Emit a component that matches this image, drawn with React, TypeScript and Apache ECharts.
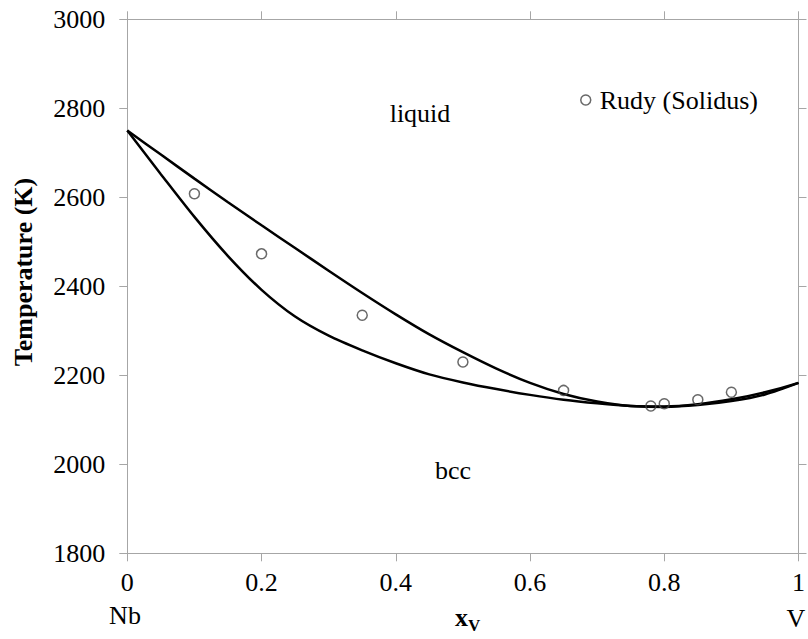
import React, { useEffect, useRef } from "react";
import * as echarts from "echarts";

// Nb–V binary phase diagram: calculated liquidus / solidus and measured solidus points
const compositions = [0, 0.05, 0.1, 0.15, 0.2, 0.25, 0.3, 0.35, 0.4, 0.45, 0.5, 0.55, 0.6, 0.65, 0.7, 0.75, 0.8, 0.85, 0.9, 0.95, 1];
const liquidusT = [2750, 2696, 2642, 2589, 2537, 2486, 2435, 2385, 2337, 2292, 2252, 2215, 2183, 2158, 2141, 2131, 2130, 2135, 2146, 2162, 2183];
const solidusT = [2750, 2652, 2556, 2468, 2392, 2332, 2289, 2256, 2227, 2202, 2184, 2169, 2156, 2145, 2137, 2131, 2129, 2133, 2142, 2157, 2183];

const rudyX = [0.1, 0.2, 0.35, 0.5, 0.65, 0.78, 0.8, 0.85, 0.9];
const rudyT = [2608, 2473, 2335, 2230, 2166, 2131, 2136, 2145, 2162];

const xTicks = [0, 0.2, 0.4, 0.6, 0.8, 1];
const yTicks = [1800, 2000, 2200, 2400, 2600, 2800, 3000];

const FONT = "Liberation Serif";
const AXIS_GRAY = "#a6a6a6";

export default function App() {
  const ref = useRef<HTMLDivElement>(null);

  useEffect(() => {
    if (!ref.current) return;
    const chart = echarts.init(ref.current, null, { renderer: "svg" });

    const pair = (xs: number[], ys: number[]) => xs.map((x, i) => [x, ys[i]]);

    const frameAxis = {
      axisLine: { show: true, onZero: false, lineStyle: { color: AXIS_GRAY, width: 1 } },
      axisTick: { show: true, inside: false, length: 8, lineStyle: { color: AXIS_GRAY, width: 1 } },
      splitLine: { show: false },
    };

    chart.setOption({
      animation: false,
      backgroundColor: "#fff",
      textStyle: { fontFamily: FONT },
      grid: { left: 127.3, right: 2.3, top: 19.3, bottom: 85.7, containLabel: false },
      xAxis: [
        {
          type: "value",
          min: xTicks[0],
          max: xTicks[xTicks.length - 1],
          interval: 0.2,
          position: "bottom",
          ...frameAxis,
          axisLabel: {
            color: "#000",
            fontFamily: FONT,
            fontSize: 26,
            margin: 16,
            formatter: (v: number) => String(Math.round(v * 10) / 10),
          },
        },
        {
          type: "value",
          min: xTicks[0],
          max: xTicks[xTicks.length - 1],
          interval: 0.2,
          position: "top",
          ...frameAxis,
          axisLabel: { show: false },
        },
      ],
      yAxis: [
        {
          type: "value",
          min: yTicks[0],
          max: yTicks[yTicks.length - 1],
          interval: 200,
          position: "left",
          ...frameAxis,
          axisLabel: {
            color: "#000",
            fontFamily: FONT,
            fontSize: 26,
            margin: 22,
            formatter: (v: number) => String(v),
          },
        },
        {
          type: "value",
          min: yTicks[0],
          max: yTicks[yTicks.length - 1],
          interval: 200,
          position: "right",
          ...frameAxis,
          axisLabel: { show: false },
        },
      ],
      legend: {
        data: ["Rudy (Solidus)"],
        left: 575,
        top: 82,
        icon: "circle",
        itemWidth: 10,
        itemHeight: 10,
        itemGap: 10,
        textStyle: { fontFamily: FONT, fontSize: 26, color: "#000", padding: [0, 0, 0, 4] },
        itemStyle: { color: "transparent", borderColor: "#444", borderWidth: 1.5 },
      },
      series: [
        {
          name: "Liquidus",
          type: "line",
          data: pair(compositions, liquidusT),
          smooth: 0.3,
          showSymbol: false,
          lineStyle: { color: "#000", width: 2.5 },
          z: 2,
        },
        {
          name: "Solidus",
          type: "line",
          data: pair(compositions, solidusT),
          smooth: 0.3,
          showSymbol: false,
          lineStyle: { color: "#000", width: 2.5 },
          z: 2,
        },
        {
          name: "Rudy (Solidus)",
          type: "scatter",
          data: pair(rudyX, rudyT),
          symbol: "circle",
          symbolSize: 10,
          itemStyle: { color: "transparent", borderColor: "#444", borderWidth: 1.5 },
          z: 3,
        },
      ],
      graphic: [
        {
          type: "text",
          x: 23,
          y: 272,
          rotation: Math.PI / 2,
          style: {
            text: "Temperature (K)",
            font: `bold 26px ${FONT}`,
            fill: "#000",
            align: "center",
            verticalAlign: "middle",
          },
        },
        {
          type: "text",
          x: 420,
          y: 113,
          style: { text: "liquid", font: `26px ${FONT}`, fill: "#000", align: "center", verticalAlign: "middle" },
        },
        {
          type: "text",
          x: 453,
          y: 470,
          style: { text: "bcc", font: `26px ${FONT}`, fill: "#000", align: "center", verticalAlign: "middle" },
        },
        {
          type: "text",
          x: 125,
          y: 628,
          style: { text: "Nb", font: `26px ${FONT}`, fill: "#000", align: "center", verticalAlign: "bottom" },
        },
        {
          type: "text",
          x: 796,
          y: 631,
          style: { text: "V", font: `26px ${FONT}`, fill: "#000", align: "center", verticalAlign: "bottom" },
        },
        {
          type: "text",
          x: 455,
          y: 630,
          style: { text: "x", font: `bold 26px ${FONT}`, fill: "#000", align: "left", verticalAlign: "bottom" },
        },
        {
          type: "text",
          x: 468,
          y: 634,
          style: { text: "V", font: `bold 17px ${FONT}`, fill: "#000", align: "left", verticalAlign: "bottom" },
        },
      ],
    });

    return () => chart.dispose();
  }, []);

  return (
    <div
      ref={ref}
      style={{ position: "fixed", left: 0, top: 0, width: 808, height: 639, background: "#fff" }}
    />
  );
}
